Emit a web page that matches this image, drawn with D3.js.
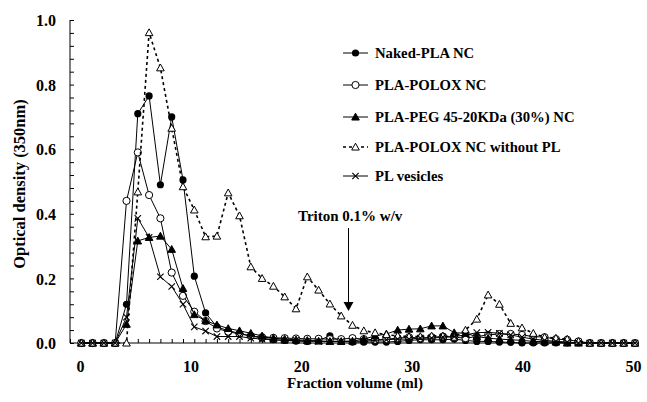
<!DOCTYPE html>
<html>
<head>
<meta charset="utf-8">
<script src="https://cdn.jsdelivr.net/npm/d3@7/dist/d3.min.js"></script>
<style>
  html, body { margin: 0; padding: 0; background: #fff; }
  svg { display: block; }
  text { font-family: "Liberation Serif", "Times New Roman", serif; font-weight: bold; fill: #000; }
</style>
</head>
<body>
<svg id="chart" width="647" height="402"></svg>
<script>
// ---------------- data ----------------
const fractions = [1,2,3,4,5,6,7,8,9,10,11,12,13,14,15,16,17,18,19,20,21,22,23,24,25,26,27,28,29,30,31,32,33,34,35,36,37,38,39,40,41,42,43,44,45,46,47,48,49,50];

const nakedPLA = [0,0,0,0,0.12,0.71,0.765,0.49,0.70,0.505,0.207,0.093,0.05,0.038,0.03,0.022,0.015,0.01,0.008,0.006,0.005,0.008,0.022,0.005,0.003,0.003,0.003,0.003,0.005,0.008,0.01,0.01,0.01,0.012,0.008,0.005,0.005,0.003,0.002,0,0,0,0,0,0,0,0,0,0,0];

const plaPolox = [0,0,0,0,0.44,0.59,0.458,0.386,0.218,0.146,0.097,0.068,0.045,0.035,0.028,0.022,0.018,0.016,0.015,0.014,0.013,0.013,0.012,0.012,0.015,0.012,0.01,0.012,0.015,0.018,0.015,0.018,0.02,0.018,0.015,0.02,0.025,0.028,0.028,0.025,0.02,0.018,0.012,0.01,0.005,0,0,0,0,0];

const plaPeg = [0,0,0,0,0.058,0.316,0.327,0.331,0.29,0.169,0.088,0.069,0.056,0.045,0.038,0.03,0.022,0.015,0.012,0.01,0.008,0.006,0.005,0.005,0.006,0.012,0.022,0.028,0.04,0.043,0.044,0.053,0.053,0.032,0.03,0.02,0.015,0.012,0.01,0.008,0.005,0.004,0.003,0,0,0,0,0,0,0];

const poloxNoPL = [0,0,0,0,0,0.468,0.961,0.852,0.665,0.484,0.412,0.329,0.331,0.465,0.394,0.236,0.20,0.176,0.143,0.106,0.205,0.164,0.121,0.084,0.055,0.038,0.032,0.026,0.022,0.02,0.02,0.022,0.022,0.018,0.04,0.074,0.149,0.12,0.061,0.047,0.03,0.018,0.015,0.012,0.005,0,0,0,0,0];

const plVesicles = [0,0,0,0,0.08,0.386,0.327,0.205,0.175,0.12,0.05,0.037,0.02,0.02,0.02,0.015,0.012,0.01,0.008,0.008,0.006,0.005,0.005,0.005,0.005,0.006,0.008,0.01,0.012,0.012,0.015,0.015,0.018,0.02,0.025,0.032,0.033,0.03,0.025,0.018,0.012,0.008,0.005,0.003,0,0,0,0,0,0];

const seriesNames = ["Naked-PLA NC", "PLA-POLOX NC", "PLA-PEG 45-20KDa (30%) NC", "PLA-POLOX NC without PL", "PL vesicles"];
const seriesValues = [nakedPLA, plaPolox, plaPeg, poloxNoPL, plVesicles];
const seriesMarkers = ["filledCircle", "openCircle", "filledTriangle", "openTriangle", "cross"];
const seriesDashed = [false, false, false, true, false];

const xTickLabels = [0, 10, 20, 30, 40, 50];
const yTickLabels = [0.0, 0.2, 0.4, 0.6, 0.8, 1.0];
const xMinorTicks = d3.range(0, 51, 1);
const yMinorTicks = d3.range(0, 26).map(i => +(i * 0.04).toFixed(2));

const xTitle = "Fraction volume (ml)";
const yTitle = "Optical density (350nm)";
const annotationText = "Triton 0.1% w/v";
const annotationX = 25;

// ---------------- layout ----------------
const svg = d3.select("#chart");
const x = d3.scaleLinear().domain([0, 50]).range([70, 635]);
const y = d3.scaleLinear().domain([0, 1]).range([343, 20]);
// tick labels in the source sit on a slightly narrower grid than the ticks
const xLabel = d3.scaleLinear().domain([0, 50]).range([80, 633]);

// axes
const gx = svg.append("g").attr("transform", `translate(0,${y(0)})`);
gx.call(d3.axisBottom(x).tickValues(xMinorTicks).tickSize(-4).tickFormat(""));
gx.select(".domain").attr("d", `M${x(0)},0H${x(50)+1}`);
const gxl = svg.append("g").attr("transform", `translate(0,${y(0)})`);
gxl.call(d3.axisBottom(xLabel).tickValues(xTickLabels).tickSize(0).tickFormat(d3.format("d")));
gxl.select(".domain").remove();
gxl.selectAll("text").attr("y", 23).attr("dy", "0.35em").style("font-size", "16px")
   .style("font-family", '"Liberation Serif", serif').style("font-weight", "bold");

const gy = svg.append("g").attr("transform", `translate(${x(0)},0)`);
gy.call(d3.axisLeft(y).tickValues(yMinorTicks).tickSize(-4).tickFormat(""));
gy.select(".domain").attr("d", `M0,${y(1)}V${y(0)}`);
const gyl = svg.append("g").attr("transform", `translate(${x(0)},0)`);
gyl.call(d3.axisLeft(y).tickValues(yTickLabels).tickSize(0).tickFormat(d3.format(".1f")));
gyl.select(".domain").remove();
gyl.selectAll("text").attr("x", -14).attr("dy", "0.35em").style("font-size", "16px")
   .style("font-family", '"Liberation Serif", serif').style("font-weight", "bold");

svg.selectAll(".tick line").attr("stroke", "#000");
svg.selectAll(".domain").attr("stroke", "#000");

// titles
svg.append("text").attr("x", 355).attr("y", 388).attr("text-anchor", "middle")
   .style("font-size", "15px").text(xTitle);
svg.append("text").attr("transform", "translate(25,184) rotate(-90)").attr("text-anchor", "middle")
   .style("font-size", "16.5px").text(yTitle);

// markers
function drawMarker(g, type, cx, cy) {
  if (type === "filledCircle") {
    g.append("circle").attr("cx", cx).attr("cy", cy).attr("r", 3.6).attr("fill", "#000");
  } else if (type === "openCircle") {
    g.append("circle").attr("cx", cx).attr("cy", cy).attr("r", 3.6).attr("fill", "#fff").attr("stroke", "#000").attr("stroke-width", 1);
  } else if (type === "filledTriangle" || type === "openTriangle") {
    const s = 3.8;
    g.append("path").attr("d", `M${cx},${cy - s}L${cx + s},${cy + s * 0.8}L${cx - s},${cy + s * 0.8}Z`)
      .attr("fill", type === "filledTriangle" ? "#000" : "#fff").attr("stroke", "#000").attr("stroke-width", 1);
  } else if (type === "cross") {
    const s = 3.2;
    g.append("path").attr("d", `M${cx - s},${cy - s}L${cx + s},${cy + s}M${cx - s},${cy + s}L${cx + s},${cy - s}`)
      .attr("stroke", "#000").attr("stroke-width", 1.1).attr("fill", "none");
  }
}

const line = d3.line().x(d => x(d[0])).y(d => y(d[1]));
seriesValues.forEach((vals, si) => {
  const pts = fractions.map((f, i) => [f, vals[i]]);
  const g = svg.append("g");
  g.append("path").attr("d", line(pts)).attr("fill", "none").attr("stroke", "#000")
    .attr("stroke-width", seriesDashed[si] ? 1.6 : 1)
    .attr("stroke-dasharray", seriesDashed[si] ? "3,3" : null);
  pts.forEach(p => drawMarker(g, seriesMarkers[si], x(p[0]), y(p[1])));
});

// legend
const legendY = [53, 85, 117, 147, 176];
const legend = svg.append("g");
seriesNames.forEach((name, i) => {
  const ly = legendY[i];
  legend.append("line").attr("x1", 343).attr("x2", 368).attr("y1", ly).attr("y2", ly)
    .attr("stroke", "#000").attr("stroke-width", seriesDashed[i] ? 1.6 : 1)
    .attr("stroke-dasharray", seriesDashed[i] ? "3,3" : null);
  drawMarker(legend, seriesMarkers[i], 355.5, ly);
  legend.append("text").attr("x", 375).attr("y", ly).attr("dy", "0.35em")
    .style("font-size", "14.7px").text(name);
});

// annotation
svg.append("text").attr("x", 298).attr("y", 221).style("font-size", "15px").text(annotationText);
const ax = x(annotationX) - 4;
svg.append("line").attr("x1", ax).attr("x2", ax).attr("y1", 228).attr("y2", 303)
   .attr("stroke", "#000").attr("stroke-width", 1);
svg.append("path").attr("d", `M${ax - 5},302L${ax + 5},302L${ax},311Z`).attr("fill", "#000");
</script>
</body>
</html>
